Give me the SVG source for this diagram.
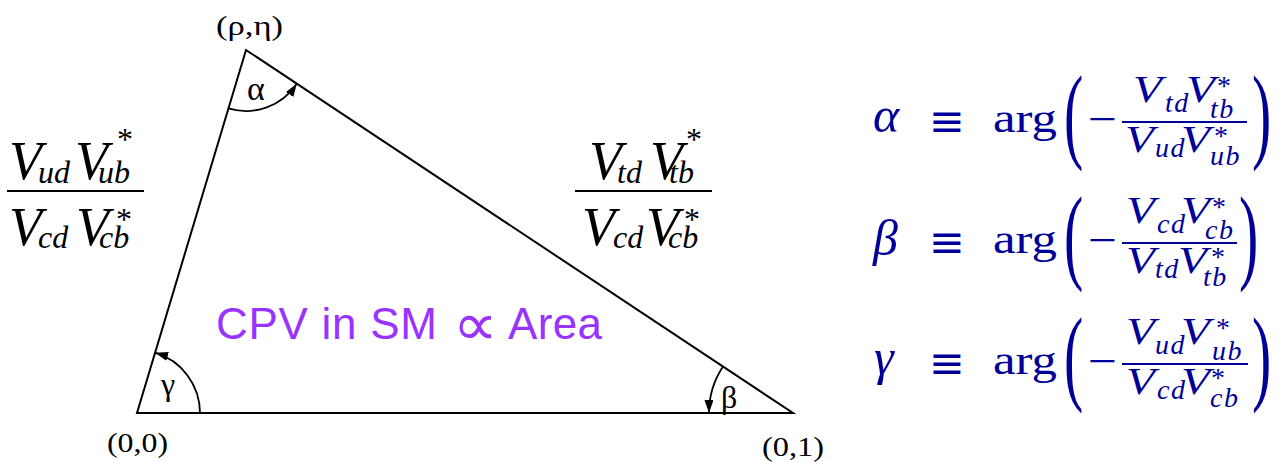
<svg xmlns="http://www.w3.org/2000/svg" width="1286" height="462" viewBox="0 0 1286 462">
<style>
.ln{fill:none;stroke:#000;stroke-width:2}
.arc{fill:none;stroke:#000;stroke-width:1.8}
.tm{font-family:"Liberation Serif","Times New Roman",serif;fill:#000}
.ti{font-family:"Liberation Serif","Times New Roman",serif;font-style:italic;fill:#000}
.big{font-size:54px}
.sb{font-size:32px}
.m{font-family:"Liberation Serif","Times New Roman",serif;fill:#000099}
.mi{font-family:"Liberation Serif","Times New Roman",serif;font-style:italic;fill:#000099}
.gk{font-family:"Liberation Serif","Times New Roman",serif;font-style:italic;fill:#000099;font-size:50px}
.eqv{font-family:"DejaVu Serif",serif;fill:#000099;font-size:44px}
.mv{font-size:37px}
.ms{font-size:28px;letter-spacing:1.5px}
.bar{stroke:#000099;stroke-width:2}
.kbar{stroke:#000;stroke-width:2}
.cpv{font-family:"Liberation Sans",Arial,sans-serif;font-size:44px;fill:#9933ff}
.prop{font-family:"DejaVu Sans",sans-serif;font-size:60px;fill:#9933ff}
</style>
<defs>
<marker id="ah" markerUnits="userSpaceOnUse" markerWidth="15" markerHeight="10" refX="13" refY="4.5" orient="auto">
<path d="M0,0 L13,4.5 L0,9 z" fill="#000"/>
</marker>
</defs>

<g id="triangle">
<path class="ln" d="M137,413 L246,50 L793,413 Z"/>
</g>

<g id="connectors">
<path class="arc" d="M228.5,108.4 A61,61 0 0,0 296.8,83.7" marker-end="url(#ah)"/>
<path class="arc" d="M200,413 A63,63 0 0,0 155.1,352.7" marker-end="url(#ah)"/>
<path class="arc" d="M723,366.5 A84,84 0 0,0 709,413" marker-end="url(#ah)"/>
</g>

<g id="vertex-labels">
<text class="tm" x="216" y="35" font-size="28" textLength="67" lengthAdjust="spacingAndGlyphs">(ρ,η)</text>
<text class="tm" x="107" y="452" font-size="28" textLength="61" lengthAdjust="spacingAndGlyphs">(0,0)</text>
<text class="tm" x="762" y="456" font-size="28" textLength="62" lengthAdjust="spacingAndGlyphs">(0,1)</text>
</g>

<g id="angle-labels">
<text class="tm" x="247" y="100" font-size="34">α</text>
<text class="tm" x="161" y="395" font-size="32">γ</text>
<text class="tm" x="721" y="408" font-size="32">β</text>
</g>

<g id="left-side-fraction">
<text class="ti big" x="9" y="179">V</text>
<text class="ti sb" x="38" y="183">ud</text>
<text class="ti big" x="75" y="179">V</text>
<text class="tm sb" x="117" y="150">*</text>
<text class="ti sb" x="98" y="183">ub</text>
<line class="kbar" x1="7" y1="191" x2="144" y2="191"/>
<text class="ti big" x="9" y="245">V</text>
<text class="ti sb" x="38" y="248">cd</text>
<text class="ti big" x="76" y="245">V</text>
<text class="tm sb" x="116" y="230">*</text>
<text class="ti sb" x="99" y="248">cb</text>
</g>

<g id="right-side-fraction">
<text class="ti big" x="589" y="179">V</text>
<text class="ti sb" x="617" y="183">td</text>
<text class="ti big" x="650" y="179">V</text>
<text class="tm sb" x="686" y="150">*</text>
<text class="ti sb" x="669" y="183">tb</text>
<line class="kbar" x1="575" y1="191" x2="712" y2="191"/>
<text class="ti big" x="582" y="245">V</text>
<text class="ti sb" x="613" y="248">cd</text>
<text class="ti big" x="646" y="245">V</text>
<text class="tm sb" x="684" y="230">*</text>
<text class="ti sb" x="668" y="248">cb</text>
</g>

<g id="area-label">
<text class="cpv" x="216" y="339" textLength="221" lengthAdjust="spacing">CPV in SM</text>
<text class="prop" transform="translate(453,345) scale(1.05,1)">∝</text>
<text class="cpv" x="508" y="339" textLength="94" lengthAdjust="spacing">Area</text>
</g>

<g id="eq-alpha">
<text class="gk" x="873" y="132">α</text>
<text class="eqv" x="929" y="136" textLength="36" lengthAdjust="spacingAndGlyphs">≡</text>
<text class="m" x="993" y="132" font-size="42" textLength="64" lengthAdjust="spacingAndGlyphs">arg</text>
<text class="m" transform="translate(1064,149) scale(0.55,1)" font-size="105">(</text>
<text class="m" x="1088" y="134" font-size="44" textLength="29" lengthAdjust="spacingAndGlyphs">−</text>
<text class="mi mv" x="1133" y="102" textLength="29" lengthAdjust="spacingAndGlyphs">V</text>
<text class="mi ms" x="1165" y="112">td</text>
<text class="mi mv" x="1186" y="102" textLength="29" lengthAdjust="spacingAndGlyphs">V</text>
<text class="m ms" x="1217" y="95">*</text>
<text class="mi ms" x="1210" y="118">tb</text>
<line class="bar" x1="1122" y1="122" x2="1247" y2="122"/>
<text class="mi mv" x="1125" y="152" textLength="29" lengthAdjust="spacingAndGlyphs">V</text>
<text class="mi ms" x="1155" y="157">ud</text>
<text class="mi mv" x="1181" y="152" textLength="29" lengthAdjust="spacingAndGlyphs">V</text>
<text class="m ms" x="1214" y="145">*</text>
<text class="mi ms" x="1210" y="165">ub</text>
<text class="m" transform="translate(1252,149) scale(0.55,1)" font-size="105">)</text>
</g>

<g id="eq-beta">
<text class="gk" x="873" y="255">β</text>
<text class="eqv" x="929" y="257" textLength="36" lengthAdjust="spacingAndGlyphs">≡</text>
<text class="m" x="993" y="253" font-size="42" textLength="64" lengthAdjust="spacingAndGlyphs">arg</text>
<text class="m" transform="translate(1064,270) scale(0.55,1)" font-size="105">(</text>
<text class="m" x="1088" y="255" font-size="44" textLength="29" lengthAdjust="spacingAndGlyphs">−</text>
<text class="mi mv" x="1126" y="223" textLength="29" lengthAdjust="spacingAndGlyphs">V</text>
<text class="mi ms" x="1157" y="233">cd</text>
<text class="mi mv" x="1181" y="223" textLength="29" lengthAdjust="spacingAndGlyphs">V</text>
<text class="m ms" x="1212" y="216">*</text>
<text class="mi ms" x="1205" y="239">cb</text>
<line class="bar" x1="1122" y1="243" x2="1237" y2="243"/>
<text class="mi mv" x="1126" y="273" textLength="29" lengthAdjust="spacingAndGlyphs">V</text>
<text class="mi ms" x="1155" y="278">td</text>
<text class="mi mv" x="1178" y="273" textLength="29" lengthAdjust="spacingAndGlyphs">V</text>
<text class="m ms" x="1211" y="266">*</text>
<text class="mi ms" x="1203" y="286">tb</text>
<text class="m" transform="translate(1239,270) scale(0.55,1)" font-size="105">)</text>
</g>

<g id="eq-gamma">
<text class="gk" x="874" y="374">γ</text>
<text class="eqv" x="929" y="378" textLength="36" lengthAdjust="spacingAndGlyphs">≡</text>
<text class="m" x="993" y="374" font-size="42" textLength="64" lengthAdjust="spacingAndGlyphs">arg</text>
<text class="m" transform="translate(1064,391) scale(0.55,1)" font-size="105">(</text>
<text class="m" x="1088" y="376" font-size="44" textLength="29" lengthAdjust="spacingAndGlyphs">−</text>
<text class="mi mv" x="1126" y="344" textLength="29" lengthAdjust="spacingAndGlyphs">V</text>
<text class="mi ms" x="1155" y="354">ud</text>
<text class="mi mv" x="1181" y="344" textLength="29" lengthAdjust="spacingAndGlyphs">V</text>
<text class="m ms" x="1216" y="337">*</text>
<text class="mi ms" x="1212" y="360">ub</text>
<line class="bar" x1="1122" y1="364" x2="1248" y2="364"/>
<text class="mi mv" x="1126" y="394" textLength="29" lengthAdjust="spacingAndGlyphs">V</text>
<text class="mi ms" x="1157" y="399">cd</text>
<text class="mi mv" x="1181" y="394" textLength="29" lengthAdjust="spacingAndGlyphs">V</text>
<text class="m ms" x="1211" y="387">*</text>
<text class="mi ms" x="1210" y="407">cb</text>
<text class="m" transform="translate(1252,391) scale(0.55,1)" font-size="105">)</text>
</g>
</svg>
